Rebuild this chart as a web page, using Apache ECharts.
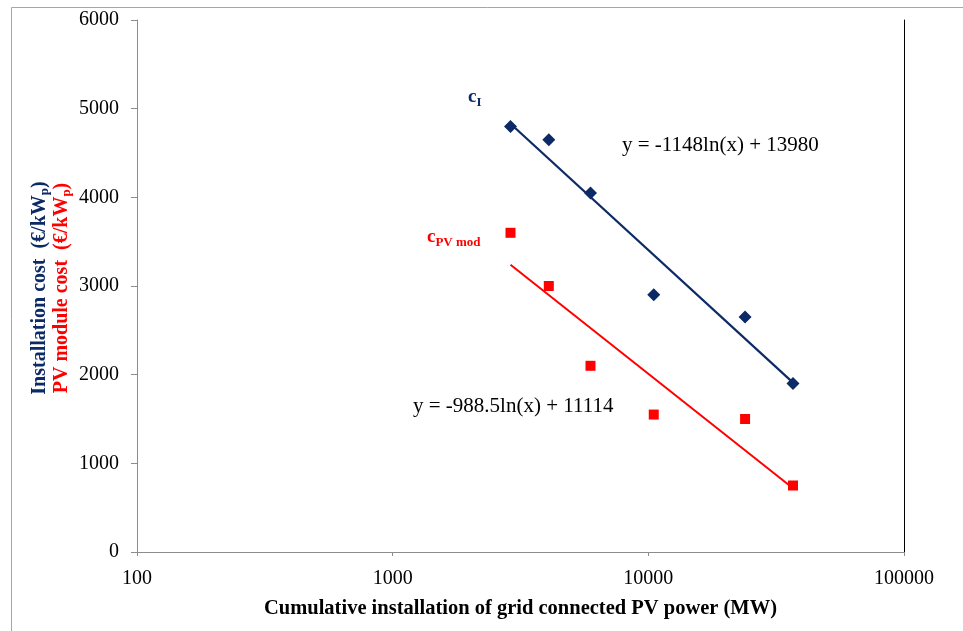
<!DOCTYPE html>
<html>
<head>
<meta charset="utf-8">
<script src="https://cdn.jsdelivr.net/npm/echarts@6/dist/echarts.min.js"></script>
<style>html,body{margin:0;padding:0;background:#fff;}#c{width:963px;height:631px;}</style>
</head>
<body>
<div id="c"></div>
<script>
// Data
var capacityMW = [2890, 4080, 5940, 10500, 23900, 36800];
var installCost = [4800, 4650, 4050, 2900, 2650, 1900];
var moduleCost = [3600, 3000, 2100, 1550, 1500, 750];
var installTrend = [[2890, 4830], [36800, 1910]];
var moduleTrend = [[2890, 3240], [36800, 720]];
var installEq = 'y = -1148ln(x) + 13980';
var moduleEq = 'y = -988.5ln(x) + 11114';
var xTitle = 'Cumulative installation of grid connected PV power (MW)';

var NAVY = '#0c2a66';
var RED = '#ff0000';
var SERIF = '"Liberation Serif", "Times New Roman", serif';

function pairs(xs, ys) { return xs.map(function (x, i) { return [x, ys[i]]; }); }
function plain(v) { return String(Math.round(v)); }

var chart = echarts.init(document.getElementById('c'));
chart.setOption({
  backgroundColor: '#fff',
  animation: false,
  grid: { left: 137, right: 59, top: 20, bottom: 79 },
  xAxis: [{
    type: 'log', logBase: 10, min: 100, max: 100000,
    axisLine: { lineStyle: { color: '#8c8c8c', width: 1 } },
    axisTick: { show: true, length: 4, lineStyle: { color: '#8c8c8c' } },
    minorTick: { show: false },
    splitLine: { show: false },
    axisLabel: { fontFamily: SERIF, fontSize: 20, color: '#000', margin: 17, formatter: plain },
    name: xTitle, nameLocation: 'middle', nameGap: 46,
    nameTextStyle: { fontFamily: SERIF, fontSize: 20.5, fontWeight: 'bold', color: '#000' }
  }, {
    type: 'log', logBase: 10, min: 100, max: 100000, position: 'top',
    axisLine: { lineStyle: { color: '#8c8c8c', width: 1 } },
    axisTick: { show: false }, axisLabel: { show: false }, splitLine: { show: false }
  }],
  yAxis: [{
    type: 'value', min: 0, max: 6000, interval: 1000,
    axisLine: { show: true, lineStyle: { color: '#8c8c8c', width: 1 } },
    axisTick: { show: true, length: 6, lineStyle: { color: '#8c8c8c' } },
    splitLine: { show: false },
    axisLabel: { fontFamily: SERIF, fontSize: 20, color: '#000', margin: 18, formatter: plain }
  }, {
    type: 'value', min: 0, max: 6000, position: 'right',
    axisLine: { show: true, lineStyle: { color: '#000', width: 1 } },
    axisTick: { show: false }, axisLabel: { show: false }, splitLine: { show: false }
  }],
  series: [
    { type: 'line', data: installTrend, symbol: 'none', lineStyle: { color: NAVY, width: 2.2 }, z: 2 },
    { type: 'line', data: moduleTrend, symbol: 'none', lineStyle: { color: RED, width: 2 }, z: 2 },
    { type: 'scatter', data: pairs(capacityMW, installCost), symbol: 'diamond', symbolSize: 13,
      itemStyle: { color: NAVY, opacity: 1 }, z: 3 },
    { type: 'scatter', data: pairs(capacityMW, moduleCost), symbol: 'rect', symbolSize: 10,
      itemStyle: { color: RED, opacity: 1 }, z: 3 }
  ],
  graphic: [
    { type: 'rect', shape: { x: 11.5, y: 7.5, width: 1000, height: 700 }, silent: true,
      style: { fill: null, stroke: '#a6a6a6', lineWidth: 1 }, z: -10 },
    { type: 'text', left: 413, top: 396,
      style: { text: moduleEq, font: '21px ' + SERIF, fill: '#000' } },
    { type: 'text', left: 622, top: 135,
      style: { text: installEq, font: '21px ' + SERIF, fill: '#000' } },
    { type: 'text', left: 468, top: 88,
      style: { text: '{c|c}{s|I}', rich: {
        c: { fontFamily: SERIF, fontSize: 19, fontWeight: 'bold', fill: NAVY },
        s: { fontFamily: SERIF, fontSize: 13, fontWeight: 'bold', fill: NAVY, padding: [10, 0, 0, 0] }
      } } },
    { type: 'text', left: 427, top: 228,
      style: { text: '{c|c}{s|PV mod}', rich: {
        c: { fontFamily: SERIF, fontSize: 19, fontWeight: 'bold', fill: RED },
        s: { fontFamily: SERIF, fontSize: 13, fontWeight: 'bold', fill: RED, padding: [10, 0, 0, 0] }
      } } },
    { type: 'text', x: 40, y: 288, rotation: Math.PI / 2,
      style: { text: '{t|Installation cost  (€/kW}{s|p}{t|)}', align: 'center', verticalAlign: 'middle', rich: {
        t: { fontFamily: SERIF, fontSize: 20, fontWeight: 'bold', fill: NAVY },
        s: { fontFamily: SERIF, fontSize: 13, fontWeight: 'bold', fill: NAVY, padding: [10, 0, 0, 0] }
      } } },
    { type: 'text', x: 62, y: 288, rotation: Math.PI / 2,
      style: { text: '{t|PV module cost  (€/kW}{s|p}{t|)}', align: 'center', verticalAlign: 'middle', rich: {
        t: { fontFamily: SERIF, fontSize: 20, fontWeight: 'bold', fill: RED },
        s: { fontFamily: SERIF, fontSize: 13, fontWeight: 'bold', fill: RED, padding: [10, 0, 0, 0] }
      } } }
  ]
});
</script>
</body>
</html>
